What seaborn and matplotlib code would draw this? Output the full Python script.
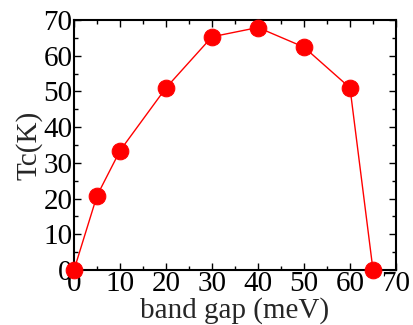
import matplotlib
matplotlib.use("Agg")
import matplotlib.pyplot as plt
import seaborn as sns
import pandas as pd
from matplotlib.ticker import MultipleLocator

band_gap = [0, 5, 10, 20, 30, 40, 50, 60, 65]
tc = [0, 20.8, 33.4, 51.0, 65.3, 67.9, 62.4, 51.0, 0]

sns.set_style("ticks")
plt.rcParams['font.family'] = ['Liberation Serif', 'DejaVu Serif']

df = pd.DataFrame({"band gap (meV)": band_gap, "Tc(K)": tc})

fig = plt.figure(figsize=(4.13, 3.25), dpi=100)
ax = fig.add_axes([74/413, 55/325, 322/413, 250/325])
sns.lineplot(data=df, x="band gap (meV)", y="Tc(K)", ax=ax, color="red",
             linewidth=1.0, marker="o", markersize=12, markeredgecolor="red",
             markerfacecolor="red", clip_on=False, zorder=3)
ax.set_xlim(0, 70)
ax.set_ylim(0, 70)
ax.xaxis.set_major_locator(MultipleLocator(10))
ax.xaxis.set_minor_locator(MultipleLocator(5))
ax.yaxis.set_major_locator(MultipleLocator(10))
ax.yaxis.set_minor_locator(MultipleLocator(5))
ax.tick_params(which="both", direction="in", top=True, right=True,
               labelsize=21, width=1.0, colors="black", pad=1)
ax.tick_params(which="major", length=5)
ax.tick_params(which="minor", length=3)
for s in ax.spines.values():
    s.set_linewidth(1.5)
    s.set_color("black")
ax.set_xlabel("band gap (meV)", fontsize=21, labelpad=0)
ax.set_ylabel("Tc(K)", fontsize=21, labelpad=1)
fig.savefig("out.png", dpi=100)
